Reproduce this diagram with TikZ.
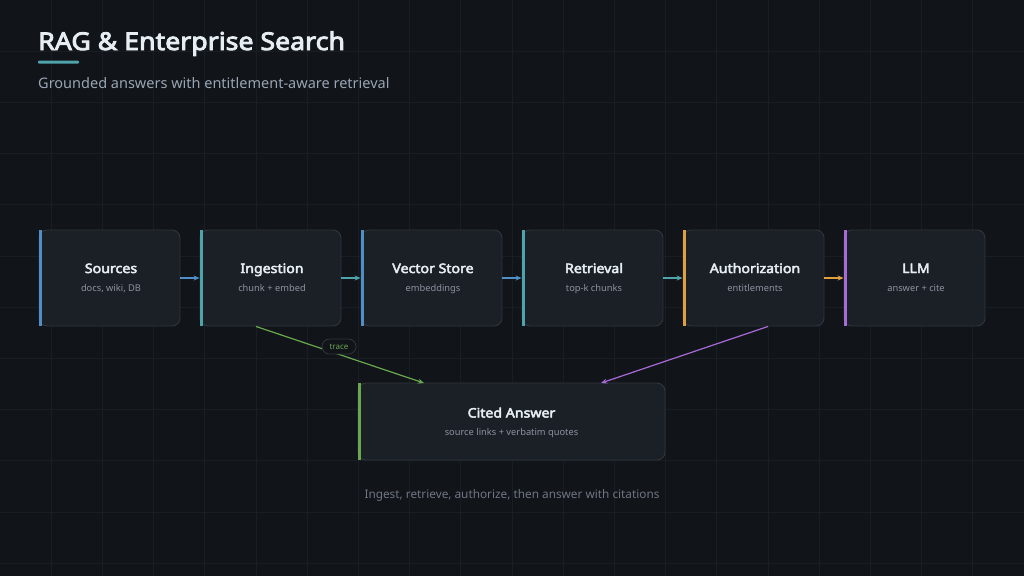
\documentclass[tikz,border=0pt]{standalone}
\usepackage{fontspec}
\setmainfont{Noto Sans}
\newfontfamily\boldfam{Noto Sans}[FakeBold=3.6, FakeStretch=1.09]
\usetikzlibrary{arrows.meta,calc}
\definecolor{bg}{HTML}{111419}
\definecolor{gridc}{HTML}{191D24}
\definecolor{boxfill}{HTML}{1B1F26}
\definecolor{boxline}{HTML}{30363D}
\definecolor{titlec}{HTML}{E6EDF3}
\definecolor{subc}{HTML}{8B949E}
\definecolor{headsub}{HTML}{9AA5B4}
\definecolor{footc}{HTML}{6E7681}
\definecolor{cblue}{HTML}{4F8FC6}
\definecolor{cteal}{HTML}{4FA3AB}
\definecolor{corange}{HTML}{E0A040}
\definecolor{cpurple}{HTML}{A76BD8}
\definecolor{cgreen}{HTML}{6AA84F}
\tikzset{
  stagebox/.style={draw=boxline, line width=0.9pt, fill=boxfill, rounded corners=8pt,
    minimum width=141pt, minimum height=96pt, inner sep=0pt},
  ttl/.style={font=\boldfam\fontsize{13}{15}\selectfont, text=titlec, inner sep=0pt, anchor=base},
  sub/.style={font=\fontsize{9.3}{11}\selectfont, text=subc, inner sep=0pt, anchor=base},
  flow/.style={line width=1.2pt, -{Stealth[length=6pt,width=5pt]}},
}
\newcommand{\accentbar}[2]{\fill[#2] ($(#1.north west)+(0,0)$) rectangle ($(#1.south west)+(3.5,0)$);}
\begin{document}
\begin{tikzpicture}[x=1pt,y=-1pt]
\useasboundingbox (0,0) rectangle (1024,576);
\fill[bg] (0,0) rectangle (1024,576);
\foreach \i in {1,...,19} \draw[gridc, line width=0.8pt] (\i*51.2,0) -- (\i*51.2,576);
\foreach \j in {1,...,11} \draw[gridc, line width=0.8pt] (0,\j*51.2) -- (1024,\j*51.2);

% header
\node[anchor=base west, inner sep=0pt, font=\boldfam\fontsize{24.5}{28}\selectfont, text=titlec] (title) at (38,50) {RAG \& Enterprise Search};
\fill[cteal, rounded corners=1pt] (38,60.5) rectangle (79,63.5);
\node[anchor=base west, inner sep=0pt, font=\fontsize{14.5}{17}\selectfont, text=headsub] (subtitle) at (38,88) {Grounded answers with entitlement-aware retrieval};

% stage boxes
\node[stagebox] (src) at (109.5,278) {};
\node[stagebox] (ing) at (270.5,278) {};
\node[stagebox] (vec) at (431.5,278) {};
\node[stagebox] (ret) at (592.5,278) {};
\node[stagebox] (auth) at (753.5,278) {};
\node[stagebox] (llm) at (914.5,278) {};
\node[stagebox, minimum width=307pt, minimum height=77pt] (cited) at (511.5,421.5) {};

\accentbar{src}{cblue}
\accentbar{ing}{cteal}
\accentbar{vec}{cblue}
\accentbar{ret}{cteal}
\accentbar{auth}{corange}
\accentbar{llm}{cpurple}
\accentbar{cited}{cgreen}

\foreach \n/\t/\s in {src/Sources/{docs, wiki, DB}, ing/Ingestion/{chunk + embed}, vec/Vector Store/embeddings, ret/Retrieval/{top-k chunks}, auth/Authorization/entitlements, llm/LLM/{answer + cite}} {
  \node[ttl] (\n-t) at ($(\n.center)+(1.5,-5)$) {\t};
  \node[sub] (\n-s) at ($(\n.center)+(1.5,13)$) {\s};
}
\node[ttl] (cited-t) at ($(cited.center)+(0,-4)$) {Cited Answer};
\node[sub] (cited-s) at ($(cited.center)+(0,13.5)$) {source links + verbatim quotes};

% flow arrows
\draw[flow, cblue] (src.east) -- (ing.west);
\draw[flow, cteal] (ing.east) -- (vec.west);
\draw[flow, cblue] (vec.east) -- (ret.west);
\draw[flow, cteal] (ret.east) -- (auth.west);
\draw[flow, corange] (auth.east) -- (llm.west);

\coordinate (ingout) at ($(ing.south)+(-14.5,0)$);
\coordinate (citin1) at ($(cited.north)+(-87.5,0.5)$);
\coordinate (authout) at ($(auth.south)+(14.5,0)$);
\coordinate (citin2) at ($(cited.north)+(89.5,0.5)$);
\draw[flow, cgreen] (ingout) -- (citin1);
\draw[flow, cpurple] (authout) -- (citin2);
\node[draw=boxline, line width=0.8pt, fill=bg, rounded corners=7.5pt, minimum width=34pt, minimum height=15pt, inner sep=0pt, font=\fontsize{8}{9}\selectfont, text=cgreen] (trace) at (339,346.5) {trace};

% footer
\node[inner sep=0pt, font=\fontsize{11.8}{14}\selectfont, text=footc] (footer) at (512,495) {Ingest, retrieve, authorize, then answer with citations};
\end{tikzpicture}
\end{document}
